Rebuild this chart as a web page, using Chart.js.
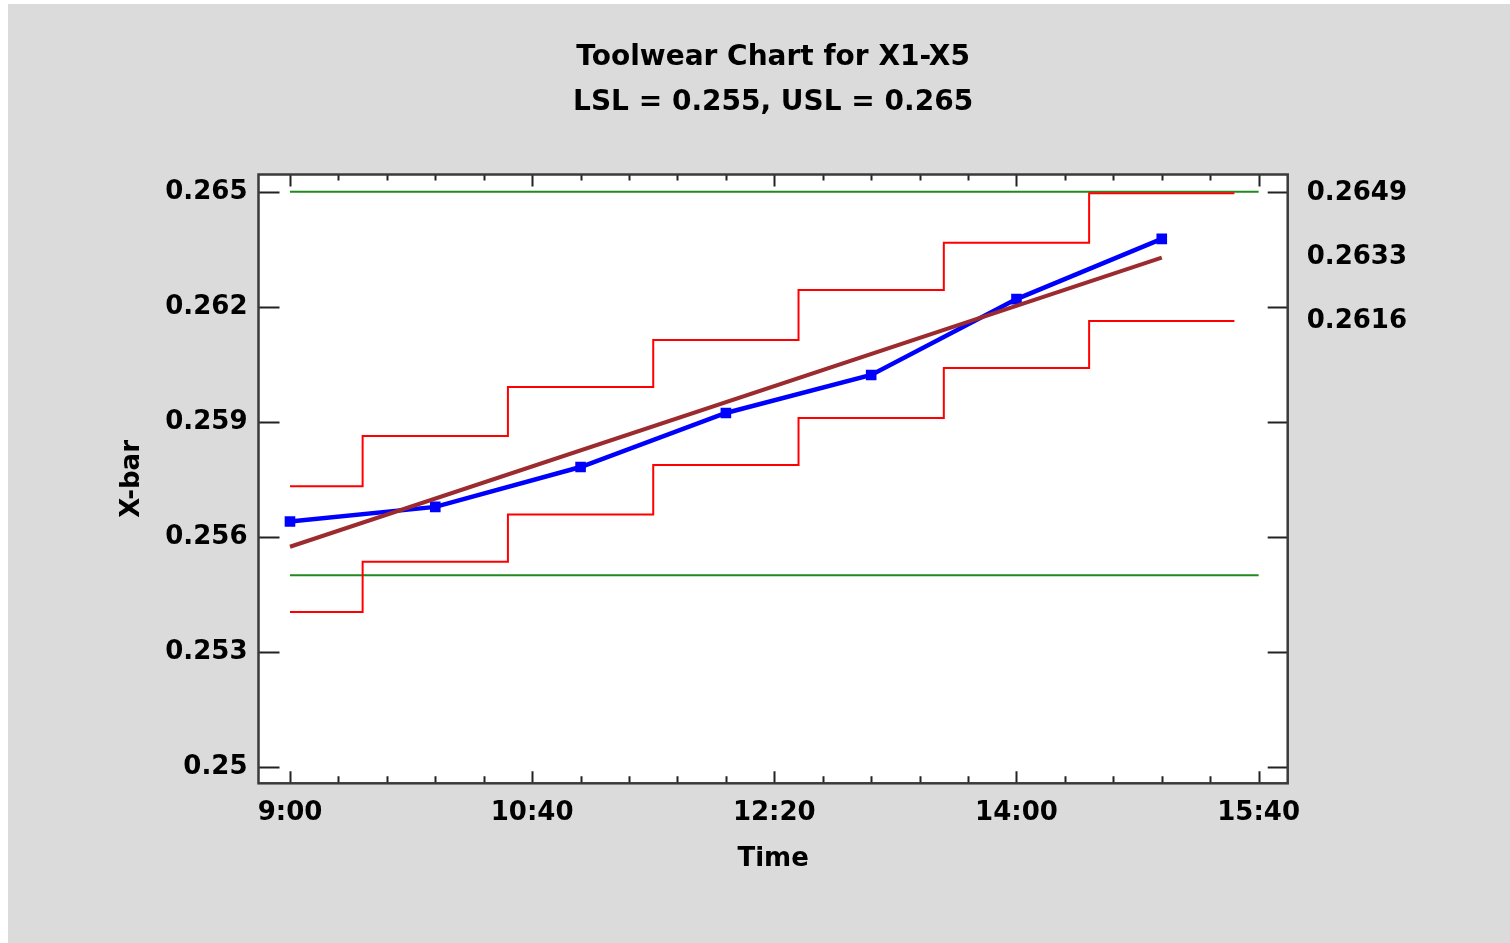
<!DOCTYPE html>
<html>
<head>
<meta charset="utf-8">
<title>Toolwear Chart for X1-X5</title>
<script src="https://cdn.jsdelivr.net/npm/chart.js@4.4.1/dist/chart.umd.min.js"></script>
<style>
  html, body { margin: 0; padding: 0; background: #fff; }
  #panel { position: absolute; left: 8px; top: 4px; width: 1502px; height: 939px; background: #dbdbdb; }
  canvas { display: block; }
</style>
</head>
<body>
<div id="panel"><canvas id="toolwearChart" width="1502" height="939"></canvas></div>
<script>
// subgroup means
var sampleTimes = ['9:00', '10:00', '11:00', '12:00', '13:00', '14:00', '15:00'];
var xbarValues = [0.25640, 0.25678, 0.25782, 0.25923, 0.26022, 0.26220, 0.26377];

// fitted wear line
var trendTimes = ['9:00', '15:00'];
var trendValues = [0.25574, 0.26328];

// control limits, each value holds until the next time
var limitTimes = ['9:00', '9:30', '10:30', '11:30', '12:30', '13:30', '14:30', '15:30'];
var uclValues = [0.25732, 0.25863, 0.25991, 0.26113, 0.26244, 0.26367, 0.26496];
var lclValues = [0.25404, 0.25535, 0.25658, 0.25787, 0.25910, 0.26040, 0.26163];

// spec limits
var specTimes = ['9:00', '15:40'];
var lsl = 0.255;
var usl = 0.265;

// axes
var yTicks = [0.25, 0.253, 0.256, 0.259, 0.262, 0.265];
var yTickLabels = ['0.25', '0.253', '0.256', '0.259', '0.262', '0.265'];
var xTickTimes = ['9:00', '10:40', '12:20', '14:00', '15:40'];
var rightTicks = [0.26496, 0.26330, 0.26163];
var rightTickLabels = ['0.2649', '0.2633', '0.2616'];

function toMin(t) {
    var p = t.split(':');
    return (parseInt(p[0], 10) - 9) * 60 + parseInt(p[1], 10);
}

function pairs(times, values) {
    return times.map(function(t, i) { return {x: toMin(t), y: values[i]}; });
}

function steps(times, values) {
    var pts = [];
    for (var i = 0; i < times.length; i++) {
        var v = i < values.length ? values[i] : values[values.length - 1];
        pts.push({x: toMin(times[i]), y: v});
    }
    return pts;
}

// white plot area, frame and inward tick marks
var framePlugin = {
    id: 'frame',
    beforeDraw: function(chart) {
        var a = chart.chartArea, ctx = chart.ctx;
        ctx.save();
        ctx.fillStyle = '#ffffff';
        ctx.fillRect(a.left, a.top, a.right - a.left, a.bottom - a.top);
        ctx.restore();
    },
    afterDraw: function(chart) {
        var a = chart.chartArea, ctx = chart.ctx;
        var xs = chart.scales.x, ys = chart.scales.y;
        ctx.save();
        ctx.strokeStyle = '#222';
        ctx.lineWidth = 2;
        ctx.beginPath();
        yTicks.forEach(function(v) {
            var py = Math.round(ys.getPixelForValue(v)) + 0.5;
            ctx.moveTo(a.left, py); ctx.lineTo(a.left + 21, py);
            ctx.moveTo(a.right, py); ctx.lineTo(a.right - 20, py);
        });
        for (var m = 0; m <= 400; m += 20) {
            var px = Math.round(xs.getPixelForValue(m)) + 0.5;
            var major = m % 100 === 0;
            ctx.moveTo(px, a.bottom); ctx.lineTo(px, a.bottom - (major ? 12 : 7));
            ctx.moveTo(px, a.top); ctx.lineTo(px, a.top + (major ? 12 : 6));
        }
        ctx.stroke();
        ctx.strokeStyle = '#3a3a3a';
        ctx.lineWidth = 2.5;
        ctx.strokeRect(a.left, a.top, a.right - a.left, a.bottom - a.top);
        ctx.restore();
    }
};

Chart.defaults.font.family = "'DejaVu Sans', sans-serif";
Chart.defaults.font.weight = 'bold';
Chart.defaults.color = '#000';

var ctx = document.getElementById('toolwearChart').getContext('2d');
new Chart(ctx, {
    type: 'line',
    data: {
        datasets: [{
            label: 'Trend',
            data: pairs(trendTimes, trendValues),
            borderColor: '#9b2b2e',
            borderWidth: 4,
            pointRadius: 0
        }, {
            label: 'X-bar',
            data: pairs(sampleTimes, xbarValues),
            borderColor: '#0000ff',
            backgroundColor: '#0000ff',
            borderWidth: 4.5,
            pointStyle: 'rect',
            pointRadius: 7.5,
            pointBorderWidth: 0
        }, {
            label: 'UCL',
            data: steps(limitTimes, uclValues),
            borderColor: '#ff0000',
            borderWidth: 2,
            pointRadius: 0,
            stepped: 'before'
        }, {
            label: 'LCL',
            data: steps(limitTimes, lclValues),
            borderColor: '#ff0000',
            borderWidth: 2,
            pointRadius: 0,
            stepped: 'before'
        }, {
            label: 'USL',
            data: pairs(specTimes, [usl, usl]),
            borderColor: '#1f8a1f',
            borderWidth: 2,
            pointRadius: 0
        }, {
            label: 'LSL',
            data: pairs(specTimes, [lsl, lsl]),
            borderColor: '#1f8a1f',
            borderWidth: 2,
            pointRadius: 0
        }]
    },
    options: {
        responsive: false,
        animation: false,
        events: [],
        layout: { padding: 0 },
        elements: { line: { tension: 0 } },
        plugins: {
            legend: { display: false },
            tooltip: { enabled: false },
            title: {
                display: true,
                fullSize: false,
                text: ['Toolwear Chart for X1-X5', 'LSL = 0.255, USL = 0.265'],
                color: '#000',
                font: { size: 28, weight: 'bold', lineHeight: '45px' },
                padding: { top: 31.5, bottom: 49 }
            }
        },
        scales: {
            x: {
                type: 'linear',
                min: -13,
                max: 412,
                grid: { display: false, drawTicks: false },
                border: { display: false },
                afterBuildTicks: function(scale) {
                    scale.ticks = xTickTimes.map(function(t) { return {value: toMin(t)}; });
                },
                afterFit: function(scale) { scale.height = 159.7; },
                ticks: {
                    padding: 14.5,
                    maxRotation: 0,
                    autoSkip: false,
                    font: { size: 26, weight: 'bold' },
                    callback: function(v, i) { return xTickTimes[i]; }
                },
                title: {
                    display: true,
                    text: 'Time',
                    font: { size: 26, weight: 'bold' },
                    padding: { top: 0, bottom: 68.5 }
                }
            },
            y: {
                position: 'left',
                min: 0.24957,
                max: 0.26545,
                grid: { display: false, drawTicks: false },
                border: { display: false },
                afterBuildTicks: function(scale) {
                    scale.ticks = yTicks.map(function(v) { return {value: v}; });
                },
                afterFit: function(scale) { scale.width = 250.5; },
                ticks: {
                    padding: 11,
                    font: { size: 26, weight: 'bold' },
                    callback: function(v, i) { return yTickLabels[i]; }
                },
                title: {
                    display: true,
                    text: 'X-bar',
                    font: { size: 26, weight: 'bold' },
                    padding: { top: 108.9, bottom: 0 }
                }
            },
            yRight: {
                position: 'right',
                min: 0.24957,
                max: 0.26545,
                grid: { display: false, drawTicks: false },
                border: { display: false },
                afterBuildTicks: function(scale) {
                    scale.ticks = rightTicks.map(function(v) { return {value: v}; });
                },
                afterFit: function(scale) { scale.width = 222.3; },
                ticks: {
                    padding: 19,
                    font: { size: 26, weight: 'bold' },
                    callback: function(v, i) { return rightTickLabels[i]; }
                }
            }
        }
    },
    plugins: [framePlugin]
});
</script>
</body>
</html>
